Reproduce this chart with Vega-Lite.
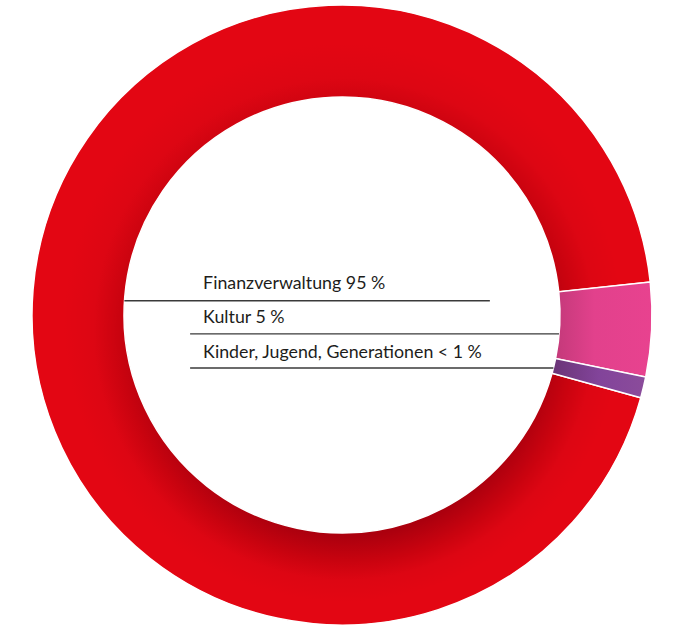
{
  "$schema": "https://vega.github.io/schema/vega-lite/v6.json",
  "width": 664,
  "height": 622,
  "padding": {"left": 10, "top": 4, "right": 0, "bottom": 0},
  "autosize": {"type": "none"},
  "background": "white",
  "view": {"stroke": null},
  "datasets": {
    "segments": [
      {"bereich": "Kultur", "anteil": 4.9, "ord": 1},
      {"bereich": "Kinder, Jugend, Generationen", "anteil": 1.1, "ord": 2},
      {"bereich": "Finanzverwaltung", "anteil": 94.0, "ord": 3}
    ],
    "annotations": [
      {"label": "Finanzverwaltung 95 %", "tx": -44.8, "ty": 8.4, "lx1": -70.2, "lx2": 47.7, "ly": 4.6},
      {"label": "Kultur 5 %", "tx": -44.8, "ty": -2.6, "lx1": -49.0, "lx2": 70.0, "ly": -6.1},
      {"label": "Kinder, Jugend, Generationen < 1 %", "tx": -44.8, "ty": -13.9, "lx1": -49.0, "lx2": 68.2, "ly": -17.1}
    ]
  },
  "layer": [
    {
      "data": {"name": "segments"},
      "transform": [
        {"stack": "anteil", "groupby": [], "sort": [{"field": "ord"}], "as": ["t0", "t1"]},
        {"filter": "datum.ord == 3"}
      ],
      "mark": {
        "type": "arc", "radius": 310, "radius2": 218, "stroke": "white", "strokeWidth": 1.5,
        "fill": {
          "gradient": "radial", "x1": 0.53, "y1": 0.62, "r1": 0, "x2": 0.5, "y2": 0.5, "r2": 0.5,
          "stops": [
            {"offset": 0, "color": "#a8000e"},
            {"offset": 0.62, "color": "#ab000e"},
            {"offset": 0.73, "color": "#c9030f"},
            {"offset": 0.81, "color": "#dd0613"},
            {"offset": 0.9, "color": "#e30613"},
            {"offset": 1, "color": "#e30613"}
          ]
        }
      },
      "encoding": {
        "theta": {"field": "t0", "type": "quantitative", "scale": {"domain": [0, 100], "range": [1.4643, 7.7475]}},
        "theta2": {"field": "t1"}
      }
    },
    {
      "data": {"name": "segments"},
      "transform": [
        {"stack": "anteil", "groupby": [], "sort": [{"field": "ord"}], "as": ["t0", "t1"]},
        {"filter": "datum.ord == 1"}
      ],
      "mark": {
        "type": "arc", "radius": 310, "radius2": 218, "stroke": "white", "strokeWidth": 1.5,
        "fill": {
          "gradient": "linear", "x1": 0, "y1": 0, "x2": 1, "y2": 0,
          "stops": [
            {"offset": 0, "color": "#c4397a"},
            {"offset": 0.4, "color": "#e2418c"},
            {"offset": 1, "color": "#e8428f"}
          ]
        }
      },
      "encoding": {
        "theta": {"field": "t0", "type": "quantitative", "scale": {"domain": [0, 100], "range": [1.4643, 7.7475]}},
        "theta2": {"field": "t1"}
      }
    },
    {
      "data": {"name": "segments"},
      "transform": [
        {"stack": "anteil", "groupby": [], "sort": [{"field": "ord"}], "as": ["t0", "t1"]},
        {"filter": "datum.ord == 2"}
      ],
      "mark": {
        "type": "arc", "radius": 310, "radius2": 218, "stroke": "white", "strokeWidth": 1.5,
        "fill": {
          "gradient": "linear", "x1": 0, "y1": 0, "x2": 1, "y2": 0,
          "stops": [
            {"offset": 0, "color": "#6a3476"},
            {"offset": 0.5, "color": "#82449a"},
            {"offset": 1, "color": "#8b4c9b"}
          ]
        }
      },
      "encoding": {
        "theta": {"field": "t0", "type": "quantitative", "scale": {"domain": [0, 100], "range": [1.4643, 7.7475]}},
        "theta2": {"field": "t1"}
      }
    },
    {
      "data": {"name": "annotations"},
      "mark": {"type": "rule", "stroke": "#3a3a3a", "strokeWidth": 1.3},
      "encoding": {
        "x": {"field": "lx1", "type": "quantitative", "scale": {"domain": [-107.1, 107.1], "nice": false, "zero": false}, "axis": null},
        "x2": {"field": "lx2"},
        "y": {"field": "ly", "type": "quantitative", "scale": {"domain": [-100.32, 100.32], "nice": false, "zero": false}, "axis": null}
      }
    },
    {
      "data": {"name": "annotations"},
      "mark": {"type": "text", "align": "left", "baseline": "alphabetic", "font": "Lato", "fontSize": 17.8, "color": "#1d1d1b"},
      "encoding": {
        "x": {"field": "tx", "type": "quantitative", "scale": {"domain": [-107.1, 107.1], "nice": false, "zero": false}, "axis": null},
        "y": {"field": "ty", "type": "quantitative", "scale": {"domain": [-100.32, 100.32], "nice": false, "zero": false}, "axis": null},
        "text": {"field": "label"}
      }
    }
  ]
}
